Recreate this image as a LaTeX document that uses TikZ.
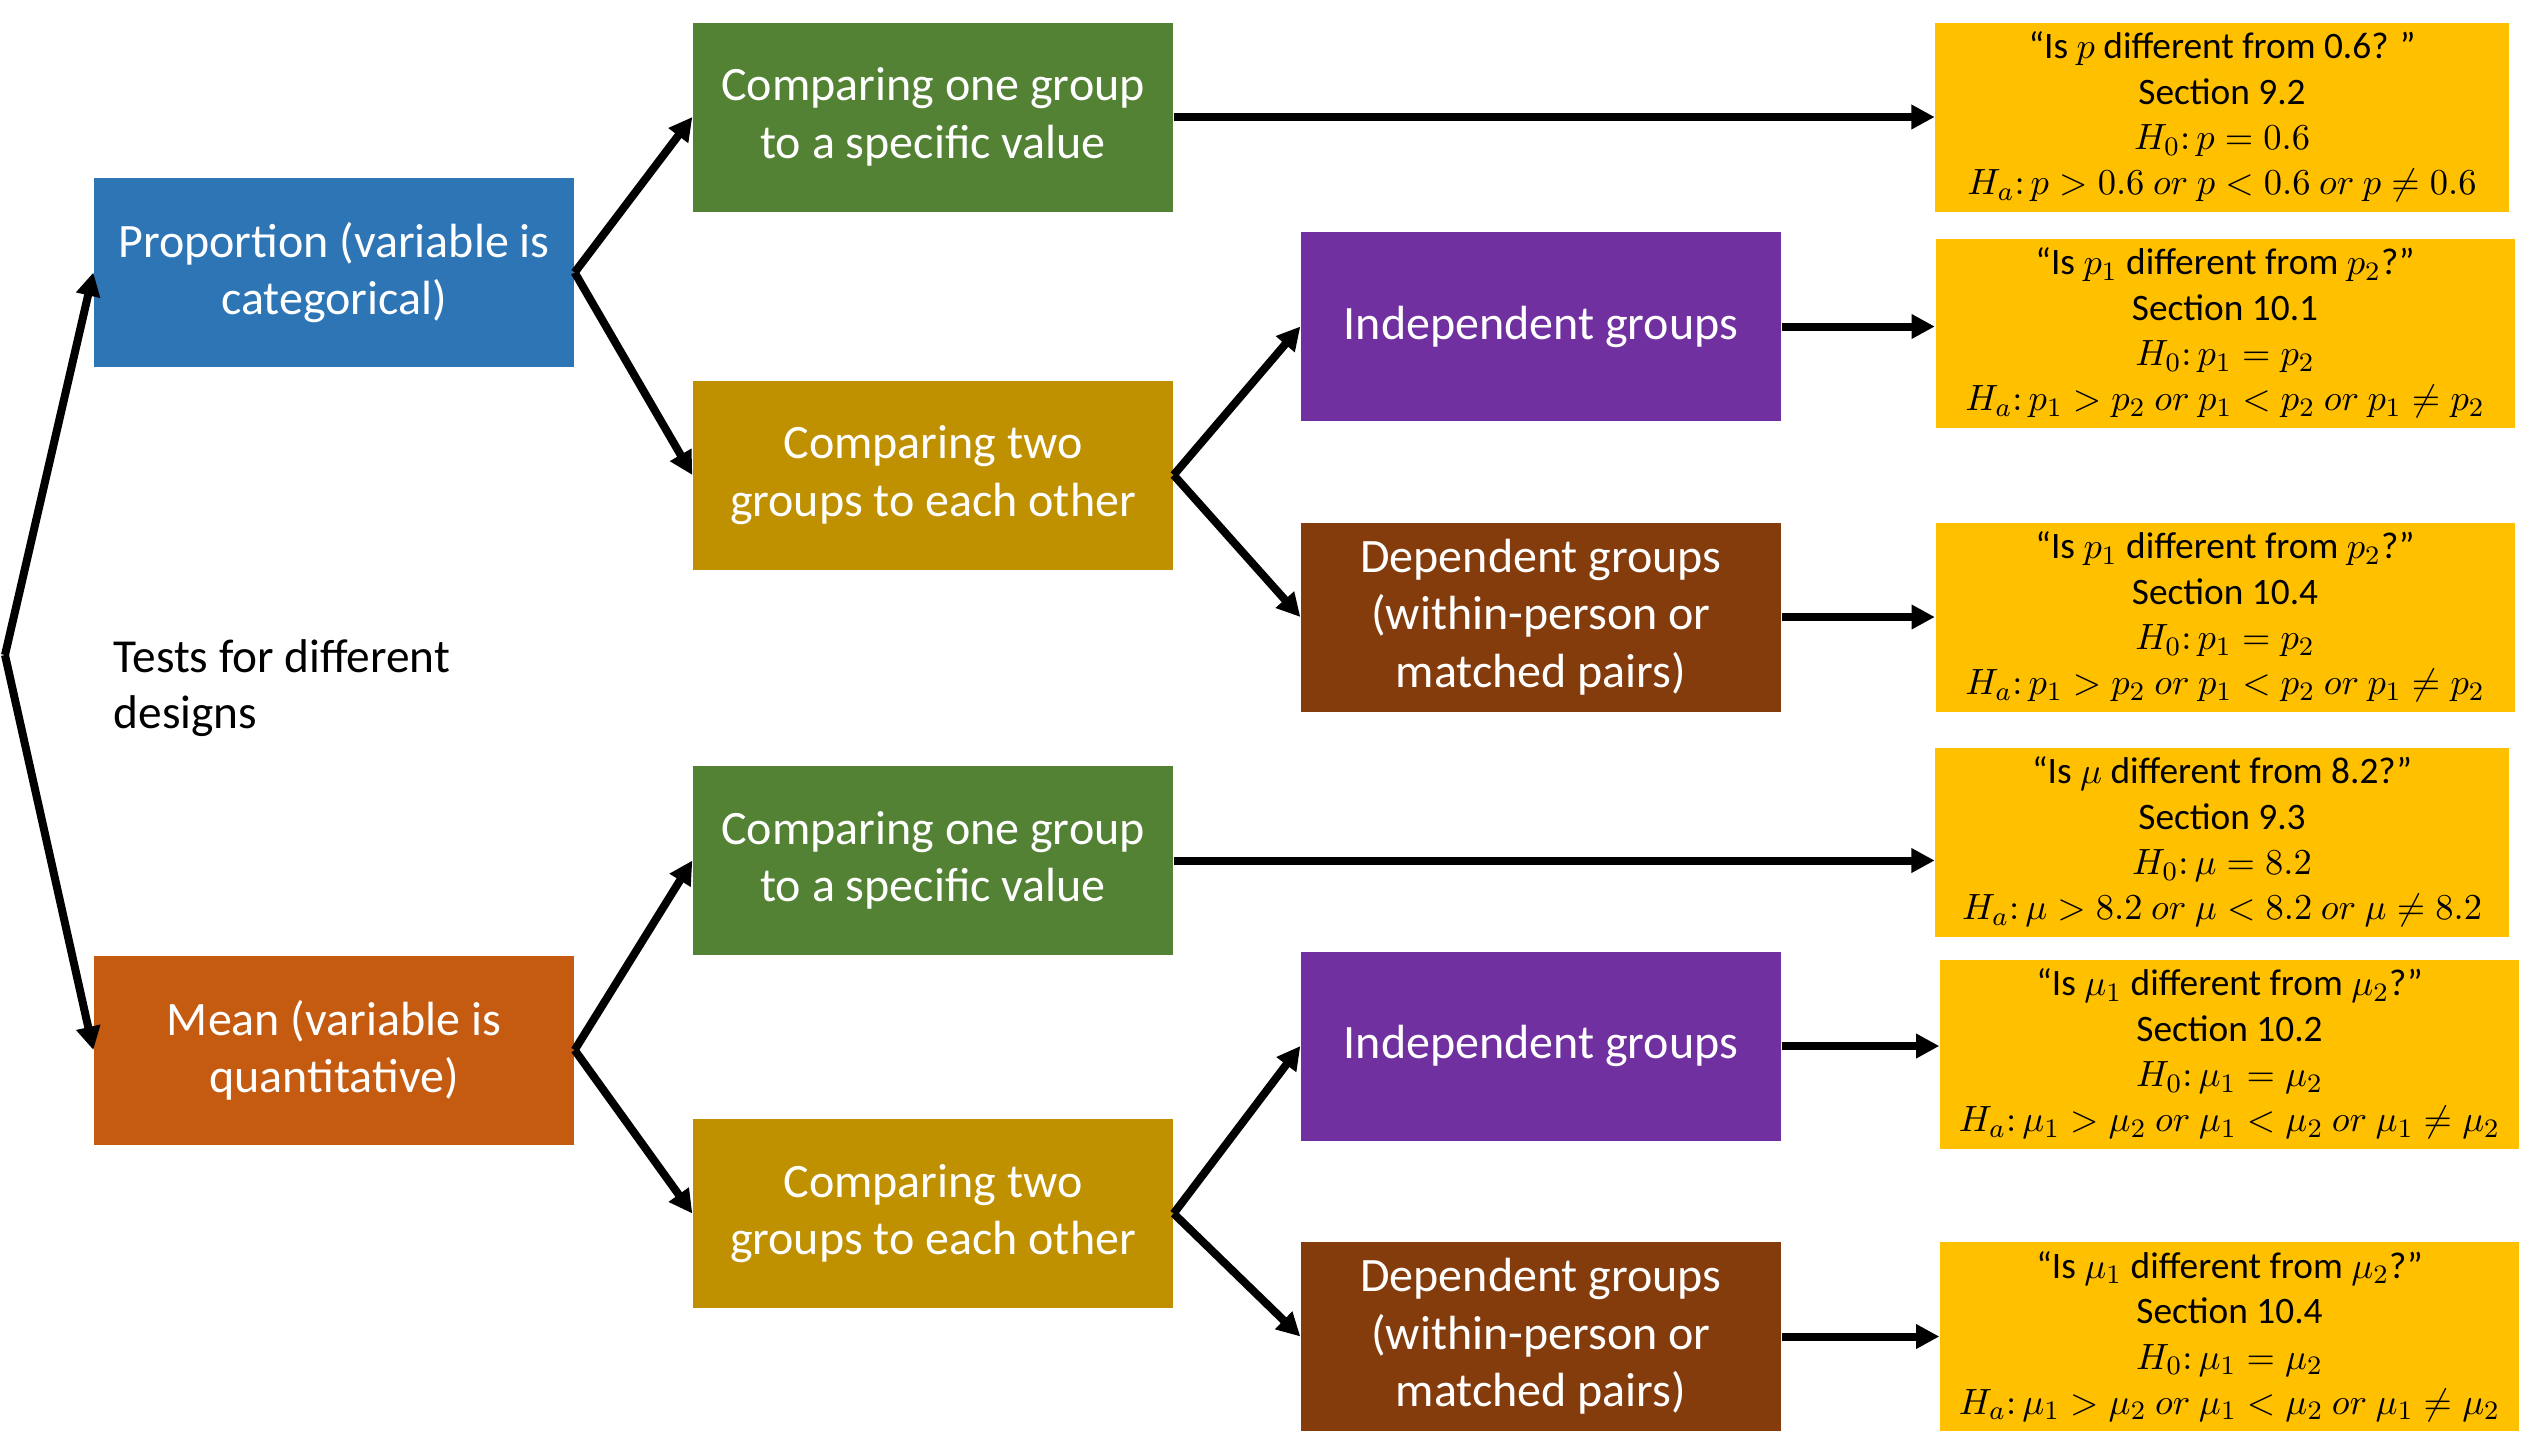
\documentclass[tikz,border=0pt]{standalone}
\usepackage{fontspec}
\setmainfont{Carlito}
\usetikzlibrary{arrows.meta}
\definecolor{cblue}{HTML}{2E75B6}
\definecolor{corange}{HTML}{C55A11}
\definecolor{cgreen}{HTML}{548235}
\definecolor{colive}{HTML}{BF9000}
\definecolor{cpurple}{HTML}{7030A0}
\definecolor{cbrown}{HTML}{843C0C}
\definecolor{cyellow}{HTML}{FFC000}
% a hypothesis line, set a little larger than the text around it
\newcommand{\hyp}[1]{{\fontsize{11.45}{13.6}\selectfont$#1$}}
\begin{document}
\begin{tikzpicture}[x=0.3pt,y=-0.3pt,
  box/.style={inner sep=0pt, minimum width=144pt, minimum height=56.7pt,
    text=white, align=center, font=\fontsize{14.4}{17.2}\selectfont},
  ybox/.style={fill=cyellow, inner sep=0pt, minimum height=56.7pt,
    align=center, font=\fontsize{11.2}{13.6}\selectfont},
  link/.style={line width=2.4pt, -{Triangle[length=7pt,width=7pt]}}]
\useasboundingbox (0,0) rectangle (2529,1440);

% first level: kind of variable
\node[box, fill=cblue]   (prop) at (334,272.5) {Proportion (variable is\\categorical)};
\node[box, fill=corange] (mean) at (334,1050)  {Mean (variable is\\quantitative)};
\coordinate (root) at (5,655);
\node[anchor=west, inner sep=0pt, align=left, font=\fontsize{14.2}{16.8}\selectfont] (title) at (113,688)
  {Tests for different\\designs};

% second level: number of groups
\node[box, fill=cgreen] (g1) at (933,117)    {Comparing one group\\to a specific value};
\node[box, fill=colive] (o1) at (933,475)    {Comparing two\\groups to each other};
\node[box, fill=cgreen] (g2) at (933,860.5)  {Comparing one group\\to a specific value};
\node[box, fill=colive] (o2) at (933,1213.5) {Comparing two\\groups to each other};

% third level: kind of design
\node[box, fill=cpurple] (i1) at (1541,326.5)  {Independent groups};
\node[box, fill=cbrown]  (d1) at (1541,617)    {Dependent groups\\(within-person or\\matched pairs)};
\node[box, fill=cpurple] (i2) at (1541,1046)   {Independent groups};
\node[box, fill=cbrown]  (d2) at (1541,1336.5) {Dependent groups\\(within-person or\\matched pairs)};

% hypotheses
\node[ybox, minimum width=172pt] (y1) at (2222,117)
  {“Is $p$ different from 0.6? ”\\Section 9.2\\\hyp{H_0{:}\,p = 0.6}\\
   \hyp{H_a{:}\,p > 0.6\ or\ p < 0.6\ or\ p \neq 0.6}};
\node[ybox, minimum width=173.7pt] (y2) at (2225,333)
  {“Is $p_1$ different from $p_2$?”\\Section 10.1\\\hyp{H_0{:}\,p_1 = p_2}\\
   \hyp{H_a{:}\,p_1 > p_2\ or\ p_1 < p_2\ or\ p_1 \neq p_2}};
\node[ybox, minimum width=173.7pt] (y3) at (2225,617)
  {“Is $p_1$ different from $p_2$?”\\Section 10.4\\\hyp{H_0{:}\,p_1 = p_2}\\
   \hyp{H_a{:}\,p_1 > p_2\ or\ p_1 < p_2\ or\ p_1 \neq p_2}};
\node[ybox, minimum width=172pt] (y4) at (2222,842)
  {“Is $\mu$ different from 8.2?”\\Section 9.3\\\hyp{H_0{:}\,\mu = 8.2}\\
   \hyp{H_a{:}\,\mu > 8.2\ or\ \mu < 8.2\ or\ \mu \neq 8.2}};
\node[ybox, minimum width=173.7pt] (y5) at (2229.5,1054)
  {“Is $\mu_1$ different from $\mu_2$?”\\Section 10.2\\\hyp{H_0{:}\,\mu_1 = \mu_2}\\
   \hyp{H_a{:}\,\mu_1 > \mu_2\ or\ \mu_1 < \mu_2\ or\ \mu_1 \neq \mu_2}};
\node[ybox, minimum width=173.7pt] (y6) at (2229.5,1336.5)
  {“Is $\mu_1$ different from $\mu_2$?”\\Section 10.4\\\hyp{H_0{:}\,\mu_1 = \mu_2}\\
   \hyp{H_a{:}\,\mu_1 > \mu_2\ or\ \mu_1 < \mu_2\ or\ \mu_1 \neq \mu_2}};

% connectors
\draw[link] (root) -- (prop.west);
\draw[link] (root) -- (mean.west);
\draw[link] (prop.east) -- (g1.west);
\draw[link] (prop.east) -- (o1.west);
\draw[link] (mean.east) -- (g2.west);
\draw[link] (mean.east) -- (o2.west);
\draw[link] (o1.east) -- (i1.west);
\draw[link] (o1.east) -- (d1.west);
\draw[link] (o2.east) -- (i2.west);
\draw[link] (o2.east) -- (d2.west);
\draw[link] (g1.east) -- (g1.east -| y1.west);
\draw[link] (i1.east) -- (i1.east -| y2.west);
\draw[link] (d1.east) -- (d1.east -| y3.west);
\draw[link] (g2.east) -- (g2.east -| y4.west);
\draw[link] (i2.east) -- (i2.east -| y5.west);
\draw[link] (d2.east) -- (d2.east -| y6.west);
\end{tikzpicture}
\end{document}
